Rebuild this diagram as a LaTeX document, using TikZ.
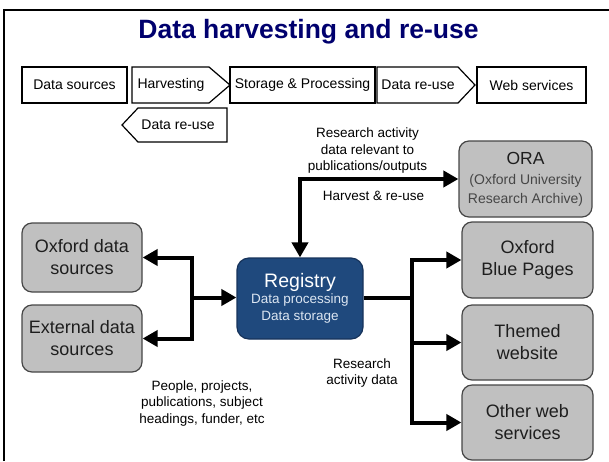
\documentclass[tikz,border=0pt]{standalone}
\usepackage{fontspec}
\setmainfont{Liberation Sans}
\usetikzlibrary{arrows.meta}
\definecolor{titleblue}{RGB}{0,0,110}
\definecolor{regblue}{RGB}{31,73,125}
\definecolor{regborder}{RGB}{22,50,90}
\definecolor{regtext}{RGB}{220,230,242}
\definecolor{boxgray}{RGB}{192,192,192}
\definecolor{boxborder}{RGB}{70,70,70}
\definecolor{boxtext}{RGB}{30,30,30}
\definecolor{subtext}{RGB}{70,70,70}
\begin{document}
\begin{tikzpicture}[x=1pt,y=-1pt,
  graybox/.style={draw=boxborder, line width=1.2pt, fill=boxgray, rounded corners=10pt,
    align=center, inner sep=0pt, text=boxtext, font=\fontsize{18}{22}\selectfont},
  barbox/.style={draw=black, line width=1.2pt, fill=white, inner sep=0pt,
    font=\fontsize{14}{16}\selectfont},
  bartext/.style={font=\fontsize{14}{16}\selectfont, inner sep=0pt},
  lbl/.style={font=\fontsize{13.5}{16.5}\selectfont, align=center, inner sep=0pt},
  arr/.style={line width=4pt, -{Triangle[length=15pt,width=16pt]}},
  biarr/.style={line width=4pt, {Triangle[length=15pt,width=16pt]}-{Triangle[length=15pt,width=16pt]}},
]
\useasboundingbox (0,0) rectangle (609,461);
% frame
\draw[line width=2.5pt] (4,461) -- (4,10) -- (609,10);
% title
\node[anchor=base, font=\bfseries\fontsize{26.5}{30}\selectfont, text=titleblue, inner sep=0pt]
  (title) at (308.5,38) {Data harvesting and re-use};
% top process bar
\node[barbox, minimum width=105pt, minimum height=36pt] (ds) at (74.5,85) {Data sources};
\draw[line width=1.2pt, fill=white] (132,67) -- (209,67) -- (230,85) -- (209,103) -- (132,103) -- cycle;
\node[bartext] (hv) at (171,85) {Harvesting};
\node[barbox, minimum width=145pt, minimum height=36pt] (sp) at (302.5,85) {Storage \& Processing};
\draw[line width=1.2pt, fill=white] (377,67) -- (458,67) -- (475,85) -- (458,103) -- (377,103) -- cycle;
\node[bartext] (dr) at (418,85) {Data re-use};
\node[barbox, minimum width=109pt, minimum height=36pt] (ws) at (531.5,85) {Web services};
% second row
\draw[line width=1.2pt, fill=white] (122,125) -- (138,108) -- (227,108) -- (227,142) -- (138,142) -- cycle;
\node[bartext] (dr2) at (178,125) {Data re-use};
% boxes
\node[graybox, minimum width=120pt, minimum height=69pt] (oxford) at (82,257.5) {Oxford data\\sources};
\node[graybox, minimum width=120pt, minimum height=67pt] (external) at (82,338.5) {External data\\sources};
\node[draw=regborder, line width=1.2pt, fill=regblue, rounded corners=12pt, align=center,
  inner sep=0pt, minimum width=126pt, minimum height=81pt, text=regtext,
  font=\fontsize{13.5}{17}\selectfont] (registry) at (300,298.5)
  {{\fontsize{19.5}{22}\selectfont\color{white}Registry}\\[-1pt]
   Data processing\\Data storage};
\node[graybox, minimum width=133pt, minimum height=76pt, text=subtext,
  font=\fontsize{14}{19}\selectfont] (ora) at (525.5,179)
  {{\fontsize{17.5}{21}\selectfont\color{boxtext}ORA}\\[1pt]
   (Oxford University\\Research Archive)};
\node[graybox, minimum width=131pt, minimum height=76pt] (blue) at (527.5,260) {Oxford\\Blue Pages};
\node[graybox, minimum width=131pt, minimum height=75pt] (themed) at (527.5,342.5) {Themed\\website};
\node[graybox, minimum width=131pt, minimum height=75pt] (other) at (527.5,422.5) {Other web\\services};
% connectors
\coordinate (jl) at (192,297.5);
\coordinate (jr) at (412,297.5);
\draw[biarr] (oxford.east) -| (jl) |- (external.east);
\draw[arr] (jl) -- (registry.west |- jl);
\draw[biarr] (ora.west) -| (registry.north);
\draw[line width=4pt] (registry.east |- jr) -- (jr);
\draw[arr] (jr) |- (blue.west);
\draw[arr] (jr) |- (themed.west);
\draw[arr] (jr) |- (other.west);
% labels
\node[lbl] (lblra) at (367.5,151) {Research activity\\data relevant to\\publications/outputs};
\node[lbl] (lblhr) at (373.5,196) {Harvest \& re-use};
\node[lbl] (lblppl) at (202,403) {People, projects,\\publications, subject\\headings, funder, etc};
\node[lbl] (lblrad) at (362,373) {Research\\activity data};
\end{tikzpicture}
\end{document}
